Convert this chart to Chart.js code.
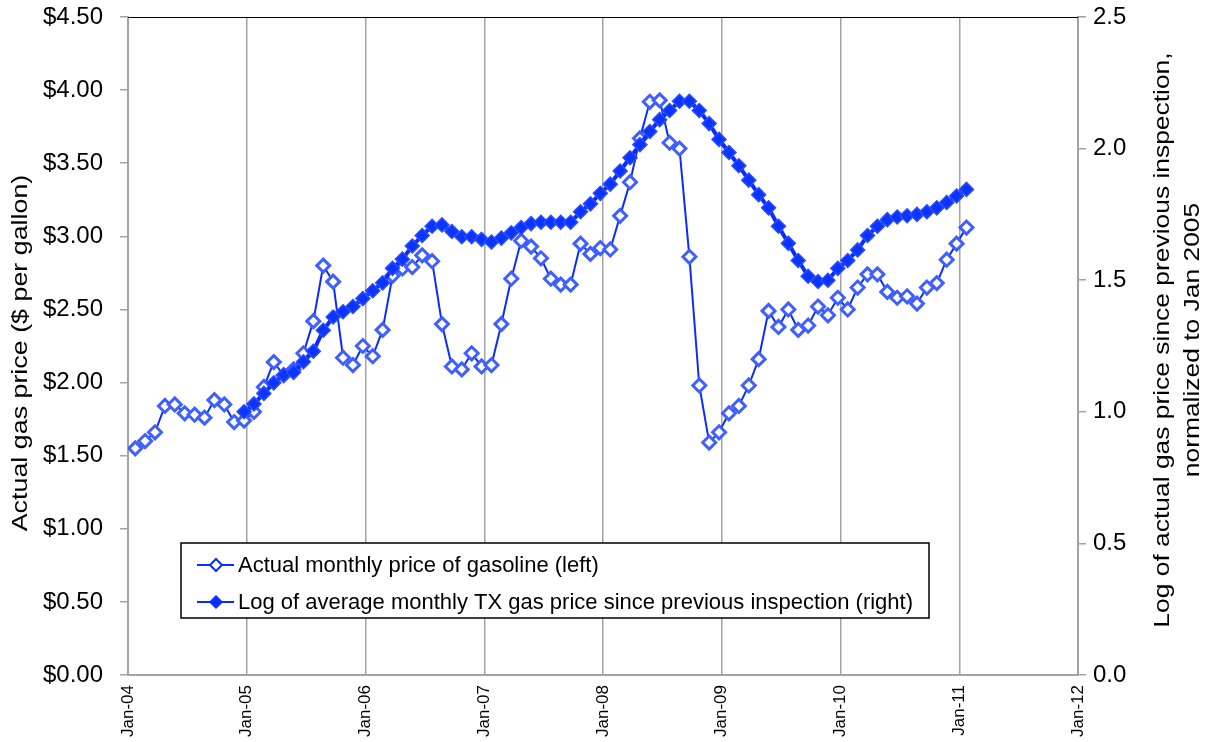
<!DOCTYPE html>
<html>
<head>
<meta charset="utf-8">
<title>Gas price vs. log of price since previous inspection</title>
<script src="https://cdn.jsdelivr.net/npm/chart.js@4.4.1/dist/chart.umd.min.js"></script>
<style>
  html, body { margin: 0; padding: 0; background: #fff; }
  #wrap { width: 1211px; height: 742px; }
</style>
</head>
<body>
<div id="wrap"><canvas id="chart" width="1211" height="742"></canvas></div>
<script>
const year_labels = ["Jan-04", "Jan-05", "Jan-06", "Jan-07", "Jan-08", "Jan-09", "Jan-10", "Jan-11", "Jan-12"];

// months after Jan-04 where the first monthly point sits
const first_point_month = 0.73;

// actual monthly price of gasoline, $ per gallon
const gas_price = [
  1.55, 1.60, 1.66, 1.84, 1.85, 1.79, 1.78, 1.76, 1.88, 1.85, 1.73,
  1.74, 1.80, 1.97, 2.14, 2.05, 2.09, 2.20, 2.42, 2.80, 2.69, 2.17, 2.12,
  2.25, 2.18, 2.36, 2.73, 2.78, 2.79, 2.87, 2.83, 2.40, 2.11, 2.09, 2.20, 2.11,
  2.12, 2.40, 2.71, 2.97, 2.93, 2.85, 2.71, 2.67, 2.67, 2.95, 2.88, 2.92,
  2.91, 3.14, 3.37, 3.67, 3.92, 3.93, 3.64, 3.60, 2.86, 1.98, 1.59, 1.66,
  1.79, 1.84, 1.98, 2.16, 2.49, 2.38, 2.50, 2.36, 2.39, 2.52, 2.46, 2.58,
  2.50, 2.65, 2.74, 2.74, 2.62, 2.58, 2.59, 2.54, 2.65, 2.68, 2.84, 2.95,
  3.06
];

// log of average monthly TX gas price since previous inspection, starts at Jan 2005
const log_start_index = 11;
const log_price = [
  1.00, 1.03, 1.07, 1.11, 1.14, 1.15, 1.19, 1.23, 1.31, 1.36, 1.38, 1.40,
  1.43, 1.46, 1.49, 1.545, 1.58, 1.63, 1.67, 1.705, 1.71, 1.685, 1.665, 1.665,
  1.655, 1.645, 1.66, 1.68, 1.70, 1.715, 1.72, 1.72, 1.72, 1.72, 1.76, 1.79,
  1.83, 1.865, 1.915, 1.965, 2.015, 2.065, 2.11, 2.145, 2.18, 2.18, 2.145, 2.095,
  2.035, 1.985, 1.935, 1.88, 1.825, 1.775, 1.705, 1.64, 1.575, 1.515, 1.495, 1.50,
  1.545, 1.575, 1.615, 1.67, 1.705, 1.73, 1.74, 1.745, 1.75, 1.76, 1.775, 1.795,
  1.82, 1.845
];

const series_labels = [
  "Actual monthly price of gasoline (left)",
  "Log of average monthly TX gas price since previous inspection (right)"
];
const left_title = "Actual gas price ($ per gallon)";
const right_title = ["Log of actual gas price since previous inspection,", "normalized to Jan 2005"];

const font_family = "'Liberation Sans', Arial, Helvetica, sans-serif";
const line_blue = "#0a2cff";
const hollow_edge = "#3f5fff";
const axis_gray = "#a3a3a3";

Chart.defaults.font.family = font_family;
Chart.defaults.color = "#000";

function draw_diamond(ctx, x, y, r, fill, stroke, width) {
  ctx.beginPath();
  ctx.moveTo(x, y - r);
  ctx.lineTo(x + r, y);
  ctx.lineTo(x, y + r);
  ctx.lineTo(x - r, y);
  ctx.closePath();
  ctx.fillStyle = fill;
  ctx.fill();
  ctx.lineWidth = width;
  ctx.strokeStyle = stroke;
  ctx.stroke();
}

// rotated titles read bottom-to-top, slightly stretched along the text like the source
function draw_upright_text(ctx, text, x, y, stretch) {
  ctx.save();
  ctx.translate(x, y);
  ctx.rotate(-Math.PI / 2);
  ctx.scale(stretch, 1);
  ctx.fillText(text, 0, 0);
  ctx.restore();
}

// fixed axis width, and no extra room asked for above/below the plot
function fix_y_axis(width) {
  return function(scale) {
    scale.width = width;
    scale.paddingTop = 0;
    scale.paddingBottom = 0;
  };
}

const extras_plugin = {
  id: "extras",
  afterDraw(chart) {
    const ctx = chart.ctx, a = chart.chartArea;
    ctx.save();

    ctx.strokeStyle = "#000";
    ctx.lineWidth = 1;
    ctx.beginPath();
    ctx.moveTo(a.left, a.top + 0.5);
    ctx.lineTo(a.right, a.top + 0.5);
    ctx.stroke();

    const mid_y = (a.top + a.bottom) / 2;
    ctx.fillStyle = "#000";
    ctx.font = "22px " + font_family;
    ctx.textAlign = "center";
    ctx.textBaseline = "middle";
    draw_upright_text(ctx, left_title, 21, mid_y + 7, 1.22);
    draw_upright_text(ctx, right_title[0], a.right + 85, mid_y - 6, 1.2);
    draw_upright_text(ctx, right_title[1], a.right + 115, mid_y - 6, 1.2);

    // boxed legend inside the plot
    const lx = a.left + 53, ly = a.bottom - 132;
    const text_x = lx + 57;
    const widths = series_labels.map(t => ctx.measureText(t).width);
    const box_w = 57 + Math.max(...widths) + 16;
    const box_h = 75;
    ctx.fillStyle = "#fff";
    ctx.fillRect(lx, ly, box_w, box_h);
    ctx.strokeStyle = "#000";
    ctx.lineWidth = 1.5;
    ctx.strokeRect(lx, ly, box_w, box_h);

    const rows = [ly + 22, ly + 59];
    rows.forEach((ry, i) => {
      ctx.strokeStyle = line_blue;
      ctx.lineWidth = 2;
      ctx.beginPath();
      ctx.moveTo(lx + 16, ry);
      ctx.lineTo(lx + 53, ry);
      ctx.stroke();
      if (i === 0) draw_diamond(ctx, lx + 35, ry, 6, "#fff", line_blue, 2);
      else draw_diamond(ctx, lx + 35, ry, 6.5, line_blue, line_blue, 1);
      ctx.fillStyle = "#000";
      ctx.textAlign = "left";
      ctx.fillText(series_labels[i], text_x, ry + 1);
    });

    ctx.restore();
  }
};

const datasets = [{
    label: series_labels[0],
    data: gas_price.map((v, i) => ({x: first_point_month + i, y: v})),
    yAxisID: "y_left",
    borderColor: line_blue,
    borderWidth: 2,
    pointStyle: "rectRot",
    pointRadius: 6.5,
    pointBorderWidth: 3,
    pointBackgroundColor: "#fff",
    pointBorderColor: hollow_edge,
    order: 1,
  }, {
    label: series_labels[1],
    data: log_price.map((v, i) => ({x: first_point_month + log_start_index + i, y: v})),
    yAxisID: "y_right",
    borderColor: line_blue,
    borderWidth: 4,
    pointStyle: "rectRot",
    pointRadius: 7,
    pointBorderWidth: 1.5,
    pointBackgroundColor: "#0b34ff",
    pointBorderColor: "#2a4dff",
    order: 0,
  },
];

const chart_options = {
  responsive: false,
  animation: false,
  layout: { padding: { top: 17 } },
  plugins: { legend: { display: false }, tooltip: { enabled: false } },
  scales: {
    x: {
      type: "linear",
      min: 0,
      max: (year_labels.length - 1) * 12,
      afterFit(scale) { scale.height = 67; },
      afterBuildTicks(scale) { scale.ticks = year_labels.map((_, i) => ({value: i * 12})); },
      ticks: {
        autoSkip: false,
        minRotation: 90,
        maxRotation: 90,
        padding: 10,
        font: { size: 17 },
        callback: value => year_labels[Math.round(value / 12)],
      },
      grid: { color: axis_gray, lineWidth: 1.5, drawTicks: false },
      border: { color: axis_gray, width: 2 },
    },
    y_left: {
      position: "left",
      min: 0,
      max: 4.5,
      afterFit: fix_y_axis(128),
      ticks: { stepSize: 0.5, padding: 17, font: { size: 24 }, callback: value => "$" + value.toFixed(2) },
      grid: { drawOnChartArea: false, tickLength: 8, color: axis_gray, lineWidth: 1.5 },
      border: { color: axis_gray, width: 2 },
    },
    y_right: {
      position: "right",
      min: 0,
      max: 2.5,
      afterFit: fix_y_axis(133),
      ticks: { stepSize: 0.5, padding: 7, font: { size: 24 }, callback: value => value.toFixed(1) },
      grid: { drawOnChartArea: false, tickLength: 8, color: axis_gray, lineWidth: 1.5 },
      border: { color: axis_gray, width: 2 },
    },
  },
};

const chart_instance = new Chart(document.getElementById("chart"), {
  type: "line",
  data: { datasets: datasets },
  options: chart_options,
  plugins: [extras_plugin],
});
</script>
</body>
</html>
